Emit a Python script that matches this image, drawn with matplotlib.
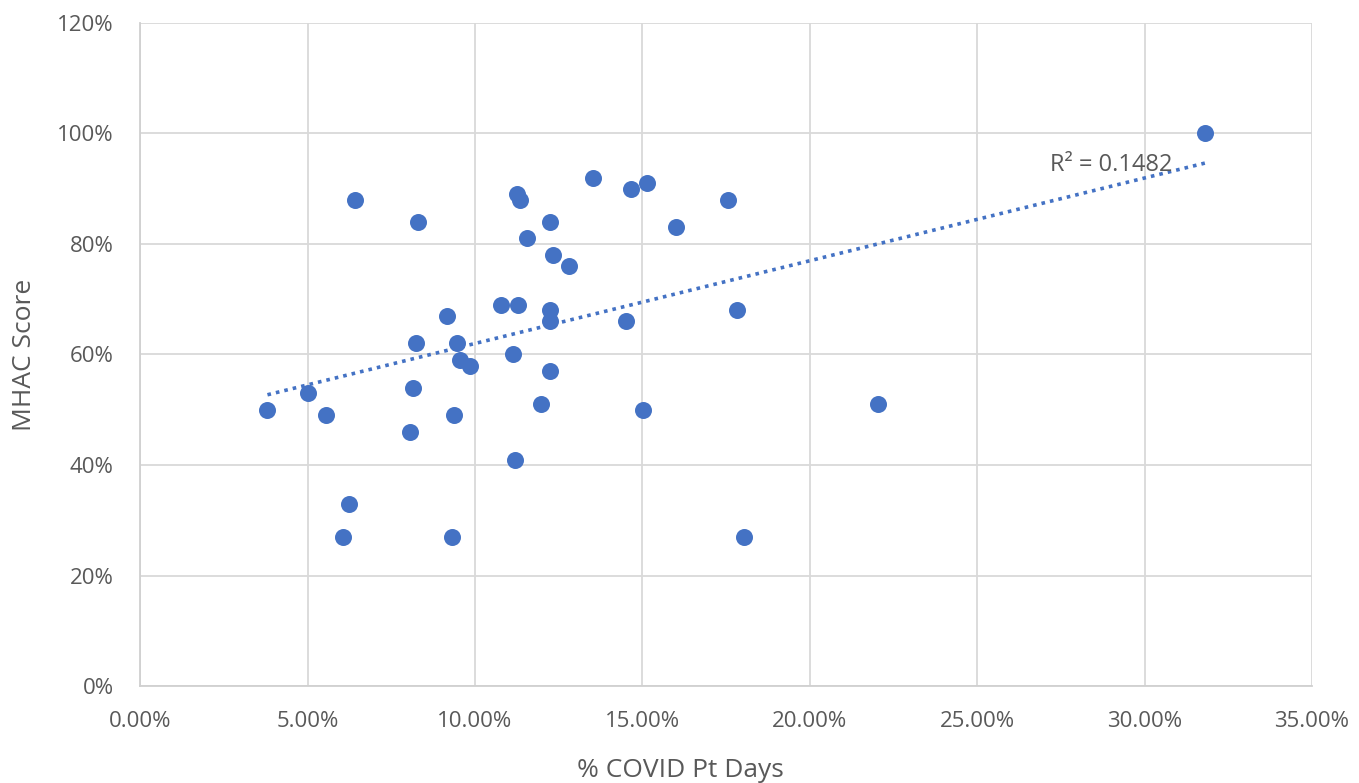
import matplotlib
matplotlib.use("Agg")
import matplotlib.pyplot as plt
import numpy as np
from matplotlib.ticker import FuncFormatter, MultipleLocator

covid_pct = [3.8, 5.0, 5.55, 6.4, 6.25, 6.05, 8.05, 8.15, 8.25, 8.3, 9.15, 9.45,
             9.56, 9.86, 9.36, 9.3, 10.77, 11.28, 11.13, 11.2, 11.25, 11.34, 11.55,
             11.96, 12.25, 12.25, 12.25, 12.25, 12.32, 12.8, 13.52, 14.5, 14.66,
             15.02, 15.14, 16.0, 17.56, 17.83, 18.04, 22.05, 31.8]
mhac_score = [50, 53, 49, 88, 33, 27, 46, 54, 62, 84, 67, 62,
              59, 58, 49, 27, 69, 69, 60, 41, 89, 88, 81,
              51, 84, 68, 66, 57, 78, 76, 92, 66, 90,
              50, 91, 83, 88, 68, 27, 51, 100]
r2_label = "R² = 0.1482"
x_title = "% COVID Pt Days"
y_title = "MHAC Score"

plt.rcParams['font.family'] = ['Open Sans', 'DejaVu Sans']

fig = plt.figure(figsize=(13.59, 7.83), dpi=100)
ax = fig.add_axes([0.1032, 0.1236, 0.8622, 0.8474])

x = np.array(covid_pct)
y = np.array(mhac_score)
ax.scatter(x, y, s=150, color='#4472C4', zorder=3, linewidths=0)

m, b = np.polyfit(x, y, 1)
xs = np.array([x.min(), x.max()])
ax.plot(xs, m * xs + b, color='#4472C4', lw=2.6, linestyle=(0, (1, 1.4)), zorder=2)

ax.text(29.0, 94.3, r2_label, ha='center', va='center', fontsize=17, color='#595959')

ax.set_xlim(0, 35)
ax.set_ylim(0, 120)
ax.xaxis.set_major_locator(MultipleLocator(5))
ax.yaxis.set_major_locator(MultipleLocator(20))
ax.xaxis.set_major_formatter(FuncFormatter(lambda v, p: f"{v:.2f}%"))
ax.yaxis.set_major_formatter(FuncFormatter(lambda v, p: f"{v:.0f}%"))
ax.grid(True, color='#d9d9d9', lw=1.3)
ax.set_axisbelow(True)
for s in ['top', 'right']:
    ax.spines[s].set_visible(False)
for s in ['left', 'bottom']:
    ax.spines[s].set_color('#d0d0d0')
    ax.spines[s].set_linewidth(1.3)
ax.tick_params(length=0, labelsize=16, colors='#595959')
ax.tick_params(axis='y', pad=19)
ax.tick_params(axis='x', pad=18)
ax.set_xlabel(x_title, fontsize=19, color='#595959', va='baseline')
ax.set_ylabel(y_title, fontsize=19, color='#595959', va='center')
ax.xaxis.set_label_coords(680 / 1359, 1 - 777 / 783, transform=fig.transFigure)
ax.yaxis.set_label_coords(25 / 1359, 1 - 355 / 783, transform=fig.transFigure)

fig.savefig("out.png", dpi=100)
